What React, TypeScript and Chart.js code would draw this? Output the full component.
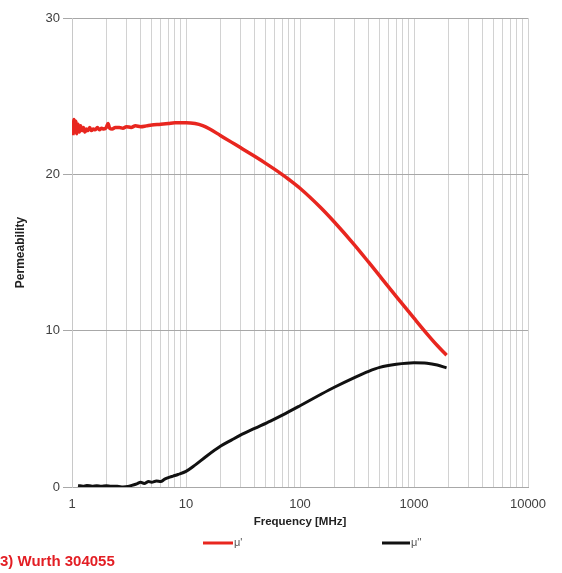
import React, { useEffect, useRef } from "react";
import { Chart, registerables } from "chart.js";

Chart.register(...registerables);

// μ' (real part) – frequency [MHz] and permeability
const MU1_FREQ = [
  1.02, 1.04, 1.06, 1.08, 1.1, 1.13, 1.16, 1.19, 1.22, 1.26, 1.3, 1.34, 1.38, 1.43, 1.48, 1.54,
  1.6, 1.67, 1.74, 1.82, 1.9, 2.0, 2.07, 2.14, 2.25, 2.4, 2.6, 2.8, 3.0, 3.3, 3.6, 4.0, 4.5, 5.0,
  6.0, 7.0, 8.0, 9.0, 10, 12, 14, 16, 20, 25, 30, 40, 50, 67, 80, 100, 150, 200, 300, 400, 500,
  700, 1000, 1300, 1600, 1930,
];
const MU1 = [
  22.5, 23.5, 22.7, 23.4, 22.6, 23.2, 22.7, 23.1, 22.8, 23.0, 22.7, 22.9, 22.8, 23.0, 22.8, 22.9,
  22.85, 23.0, 22.85, 22.95, 22.9, 23.0, 23.25, 22.95, 22.9, 23.0, 23.0, 22.95, 23.05, 23.0, 23.1,
  23.05, 23.1, 23.15, 23.2, 23.25, 23.3, 23.3, 23.3, 23.25, 23.12, 22.92, 22.49, 22.06, 21.71,
  21.15, 20.7, 20.08, 19.67, 19.11, 17.91, 16.95, 15.49, 14.38, 13.5, 12.18, 10.8, 9.8, 9.05, 8.43,
];

// μ'' (imaginary part)
const MU2_FREQ = [
  1.13, 1.25, 1.35, 1.5, 1.65, 1.8, 2.0, 2.2, 2.5, 2.8, 3.1, 3.4, 3.7, 4.0, 4.3, 4.7, 5.0, 5.5,
  6.0, 6.5, 7.0, 7.7, 8.5, 10, 12, 15, 20, 25, 30, 40, 55, 70, 100, 150, 200, 300, 400, 500, 700,
  1000, 1300, 1600, 1930,
];
const MU2 = [
  0.1, 0.05, 0.1, 0.05, 0.08, 0.05, 0.08, 0.05, 0.05, 0.0, 0.03, 0.12, 0.2, 0.3, 0.22, 0.35, 0.3,
  0.38, 0.35, 0.5, 0.6, 0.7, 0.8, 1.0, 1.4, 1.95, 2.6, 3.0, 3.32, 3.75, 4.22, 4.6, 5.2, 5.9, 6.38,
  7.0, 7.4, 7.65, 7.85, 7.95, 7.92, 7.8, 7.62,
];

const SERIES_LABELS = ["μ'", "μ''"];
const SERIES_COLORS = ["#e8261f", "#111111"];
const X_DECADES = [1, 10, 100, 1000, 10000];
const X_MULTIPLIERS = [1, 2, 3, 4, 5, 6, 7, 8, 9];
const Y_MIN = 0;
const Y_MAX = 30;
const Y_STEP = 10;
const X_TITLE = "Frequency [MHz]";
const Y_TITLE = "Permeability";
const CAPTION = "3) Wurth 304055";

const FONT = "'Liberation Sans', Arial, sans-serif";

const legendPlugin = {
  id: "customLegend",
  afterDraw(chart: any) {
    const ctx = chart.ctx;
    const y = 543;
    const items = [
      { x0: 203, x1: 233 },
      { x0: 382, x1: 410 },
    ];
    ctx.save();
    chart.data.datasets.forEach((ds: any, i: number) => {
      const it = items[i];
      ctx.strokeStyle = ds.borderColor;
      ctx.lineWidth = 3;
      ctx.beginPath();
      ctx.moveTo(it.x0, y);
      ctx.lineTo(it.x1, y);
      ctx.stroke();
      ctx.fillStyle = "#555";
      ctx.font = `11px ${FONT}`;
      ctx.textBaseline = "middle";
      ctx.textAlign = "left";
      ctx.fillText(ds.label, it.x1 + 1, y);
    });
    ctx.restore();
  },
};

export default function App() {
  const ref = useRef<HTMLCanvasElement | null>(null);

  useEffect(() => {
    if (!ref.current) return;
    const gridValues: number[] = [];
    X_DECADES.forEach((d, di) => {
      if (di === X_DECADES.length - 1) {
        gridValues.push(d);
      } else {
        X_MULTIPLIERS.forEach((m) => gridValues.push(d * m));
      }
    });

    const chart = new Chart(ref.current, {
      type: "line",
      data: {
        datasets: [
          {
            label: SERIES_LABELS[0],
            data: MU1_FREQ.map((f, i) => ({ x: f, y: MU1[i] })),
            borderColor: SERIES_COLORS[0],
            backgroundColor: SERIES_COLORS[0],
            borderWidth: 3.5,
            pointRadius: 0,
            cubicInterpolationMode: "monotone",
          },
          {
            label: SERIES_LABELS[1],
            data: MU2_FREQ.map((f, i) => ({ x: f, y: MU2[i] })),
            borderColor: SERIES_COLORS[1],
            backgroundColor: SERIES_COLORS[1],
            borderWidth: 3,
            pointRadius: 0,
            cubicInterpolationMode: "monotone",
          },
        ],
      },
      options: {
        responsive: false,
        animation: false,
        layout: { padding: { left: 0, right: 34, top: 18, bottom: 40 } },
        plugins: {
          legend: { display: false },
          tooltip: { enabled: false },
        },
        scales: {
          x: {
            type: "logarithmic",
            min: 1,
            max: 10000,
            afterBuildTicks: (scale: any) => {
              scale.ticks = gridValues.map((v) => ({ value: v, major: X_DECADES.includes(v) }));
            },
            afterFit: (scale: any) => {
              scale.height = 46;
            },
            ticks: {
              autoSkip: false,
              maxRotation: 0,
              minRotation: 0,
              padding: 10,
              color: "#404040",
              font: { family: FONT, size: 13 },
              callback: (value: any) => (X_DECADES.includes(Number(value)) ? String(value) : ""),
            },
            grid: {
              color: "#d2d2d2",
              lineWidth: 1,
              drawTicks: false,
            },
            border: { display: true, color: "#a8a8a8" },
            title: {
              display: true,
              text: X_TITLE,
              color: "#222",
              font: { family: FONT, size: 11.5, weight: "bold" },
              padding: { top: 2, bottom: 4 },
            },
          },
          y: {
            type: "linear",
            min: Y_MIN,
            max: Y_MAX,
            afterFit: (scale: any) => {
              scale.width = 72;
            },
            ticks: {
              stepSize: Y_STEP,
              padding: 3,
              color: "#404040",
              font: { family: FONT, size: 13 },
            },
            grid: {
              color: "#a8a8a8",
              lineWidth: 1,
              drawTicks: true,
              tickLength: 9,
            },
            border: { display: true, color: "#c8c8c8" },
            title: {
              display: true,
              text: Y_TITLE,
              color: "#222",
              font: { family: FONT, size: 12, weight: "bold" },
              padding: { top: 13, bottom: 4 },
            },
          },
        },
      },
      plugins: [legendPlugin],
    });
    return () => chart.destroy();
  }, []);

  return (
    <div style={{ position: "fixed", left: 0, top: 0, width: 562, height: 573, background: "#fff" }}>
      <canvas ref={ref} width={562} height={573} style={{ display: "block" }} />
      <div
        style={{
          position: "absolute",
          left: 0,
          top: 553,
          fontFamily: FONT,
          fontSize: 15,
          fontWeight: "bold",
          color: "#e31e24",
          whiteSpace: "nowrap",
          lineHeight: "16px",
        }}
      >
        {CAPTION}
      </div>
    </div>
  );
}
